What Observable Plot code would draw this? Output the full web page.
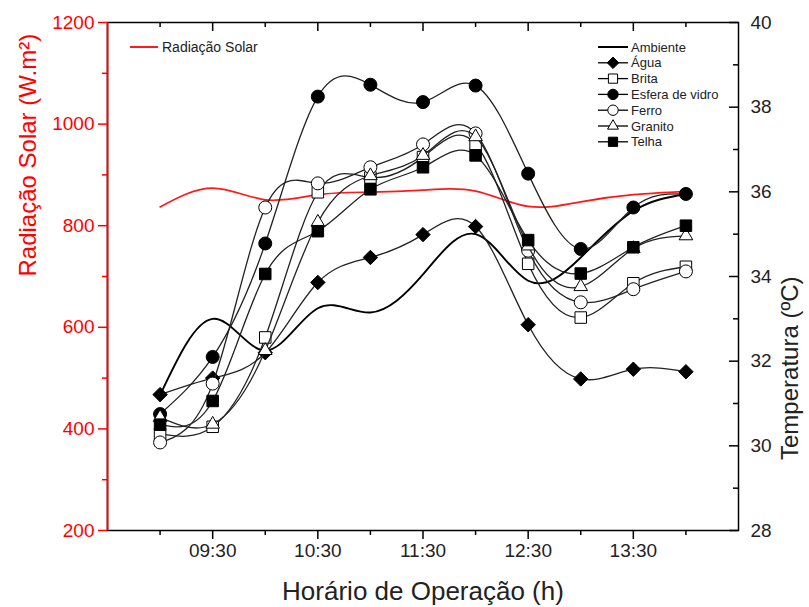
<!DOCTYPE html>
<html>
<head>
<meta charset="utf-8">
<script src="https://cdn.jsdelivr.net/npm/d3@7"></script>
<script src="https://cdn.jsdelivr.net/npm/@observablehq/plot@0.6"></script>
<style>
  html, body { margin: 0; padding: 0; background: white; }
  svg { font-family: "Liberation Sans", Arial, sans-serif; }
</style>
</head>
<body>
<div id="chart"></div>
<script>
// ---- data ----
const times = [9, 9.5, 10, 10.5, 11, 11.5, 12, 12.5, 13, 13.5, 14];
const radiacao = [837, 874, 851, 861, 866, 870, 868, 838, 847, 861, 867];
const ambiente = [31.2, 33.0, 32.25, 33.25, 33.15, 34.05, 35.0, 33.9, 34.45, 35.55, 35.95];
const agua     = [31.21, 31.6, 32.2, 33.86, 34.45, 34.99, 35.18, 32.86, 31.58, 31.81, 31.75];
const brita    = [30.28, 30.45, 32.56, 35.99, 36.34, 36.82, 37.13, 34.30, 33.03, 33.84, 34.23];
const esfera   = [30.75, 32.10, 34.78, 38.25, 38.53, 38.12, 38.51, 36.43, 34.65, 35.63, 35.95];
const ferro    = [30.08, 31.47, 35.63, 36.20, 36.58, 37.12, 37.38, 34.61, 33.39, 33.70, 34.12];
const granito  = [30.67, 30.51, 32.25, 35.28, 36.38, 36.86, 37.30, 34.72, 33.76, 34.66, 34.96];
const telha    = [30.50, 31.06, 34.06, 35.07, 36.06, 36.58, 36.86, 34.86, 34.07, 34.69, 35.20];

const xMajorTicks = [9.5, 10.5, 11.5, 12.5, 13.5];
const xMinorTicks = [9, 10, 11, 12, 13, 14];
const radMajorTicks = [200, 400, 600, 800, 1000, 1200];
const radMinorTicks = [300, 500, 700, 900, 1100];
const tempMajorTicks = [28, 30, 32, 34, 36, 38, 40];
const tempMinorTicks = [29, 31, 33, 35, 37, 39];

const series = [
  {name: "Água", values: agua, symbol: "diamond2", fill: "black"},
  {name: "Brita", values: brita, symbol: "square", fill: "white"},
  {name: "Esfera de vidro", values: esfera, symbol: "circle", fill: "black"},
  {name: "Ferro", values: ferro, symbol: "circle", fill: "white"},
  {name: "Granito", values: granito, symbol: "triangle2", fill: "white"},
  {name: "Telha", values: telha, symbol: "square", fill: "black"}
];

// ---- helpers ----
const radMin = 200, radMax = 1200, tMin = 28, tMax = 40;
const toT = r => tMin + (r - radMin) * (tMax - tMin) / (radMax - radMin);
const toR = t => radMin + (t - tMin) * (radMax - radMin) / (tMax - tMin);
const fmtTime = t => {
  const h = Math.floor(t), m = Math.round((t - h) * 60);
  return String(h).padStart(2, "0") + ":" + String(m).padStart(2, "0");
};

const W = 809, H = 607;
const mL = 107, mR = 71, mT = 22, mB = 77;
const frameW = W - mL - mR, frameH = H - mT - mB;
const xDomain = [8.5, 14.5];

const rows = vals => times.map((t, i) => ({t, v: vals[i]}));
const radRows = times.map((t, i) => ({t, v: toT(radiacao[i])}));

const marks = [
  Plot.line(radRows, {x: "t", y: "v", curve: "natural", stroke: "#ff1a1a", strokeWidth: 1.7}),
  Plot.line(rows(ambiente), {x: "t", y: "v", curve: "natural", stroke: "black", strokeWidth: 1.9})
];
for (const s of series) {
  marks.push(Plot.line(rows(s.values), {x: "t", y: "v", curve: "natural", stroke: "#222", strokeWidth: 1.3}));
  marks.push(Plot.dot(rows(s.values), {x: "t", y: "v", symbol: s.symbol, r: 6.5, fill: s.fill, stroke: "black", strokeWidth: 1}));
}

marks.push(
  Plot.frame({stroke: "black", strokeWidth: 1.5}),
  Plot.ruleX([xDomain[0]], {stroke: "red", strokeWidth: 1.8}),
  // bottom axis
  Plot.axisX(xMajorTicks, {anchor: "bottom", tickSize: 9, tickPadding: 4, tickFormat: fmtTime, fontSize: 19, fill: "#222", strokeWidth: 1.5, label: null}),
  Plot.axisX(xMinorTicks, {anchor: "bottom", tickSize: 5, tickFormat: () => "", strokeWidth: 1.5, label: null}),
  // top inward ticks
  Plot.tickX(xMajorTicks, {x: d => d, insetBottom: frameH - 9, strokeWidth: 1.5}),
  Plot.tickX(xMinorTicks, {x: d => d, insetBottom: frameH - 5, strokeWidth: 1.5}),
  // left axis (radiation)
  Plot.axisY(radMajorTicks.map(toT), {anchor: "left", tickSize: 9, tickPadding: 4, tickFormat: t => String(Math.round(toR(t))), stroke: "red", fill: "red", fontSize: 19, strokeWidth: 1.5, label: null}),
  Plot.axisY(radMinorTicks.map(toT), {anchor: "left", tickSize: 5, tickFormat: () => "", stroke: "red", strokeWidth: 1.5, label: null}),
  // right axis (temperature)
  Plot.axisY(tempMajorTicks, {anchor: "right", tickSize: 0, tickPadding: 12, fontSize: 19, fill: "#222", label: null}),
  Plot.tickY(tempMajorTicks, {y: d => d, insetLeft: frameW - 9, strokeWidth: 1.5}),
  Plot.tickY(tempMinorTicks, {y: d => d, insetLeft: frameW - 5, strokeWidth: 1.5}),
  // axis titles
  Plot.text(["Radiação Solar (W.m²)"], {frameAnchor: "left", dx: -79, rotate: -90, fill: "red", fontSize: 24}),
  Plot.text(["Temperatura (ºC)"], {frameAnchor: "right", dx: 52, rotate: -90, fill: "#222", fontSize: 24}),
  Plot.text(["Horário de Operação (h)"], {frameAnchor: "bottom", dy: 69, fill: "#222", fontSize: 26})
);

const chart = Plot.plot({
  width: W, height: H,
  marginLeft: mL, marginRight: mR, marginTop: mT, marginBottom: mB,
  x: {domain: xDomain},
  y: {domain: [tMin, tMax]},
  style: {fontFamily: "Liberation Sans, Arial, sans-serif", background: "white", overflow: "visible"},
  marks
});
document.getElementById("chart").appendChild(chart);

// ---- legends ----
const svg = d3.select(chart);
const lg1 = svg.append("g");
lg1.append("line").attr("x1", 130).attr("x2", 158).attr("y1", 47).attr("y2", 47).attr("stroke", "#ff1a1a").attr("stroke-width", 2);
lg1.append("text").attr("x", 162).attr("y", 47).attr("dy", "0.35em")
  .attr("text-anchor", "start").style("font-size", "14px").style("font-family", "Liberation Sans, Arial, sans-serif")
  .attr("fill", "#222").text("Radiação Solar");

const lg2 = svg.append("g");
const symMap = {diamond2: d3.symbolDiamond2, square: d3.symbolSquare, circle: d3.symbolCircle, triangle2: d3.symbolTriangle2};
const entries = [{name: "Ambiente", symbol: null}].concat(series);
entries.forEach((e, i) => {
  const y = 47 + i * 15.8;
  lg2.append("line").attr("x1", 598).attr("x2", 628).attr("y1", y).attr("y2", y)
    .attr("stroke", "black").attr("stroke-width", e.symbol ? 1.3 : 2);
  if (e.symbol) {
    lg2.append("path").attr("d", d3.symbol(symMap[e.symbol], Math.PI * 5.2 * 5.2)())
      .attr("transform", `translate(613,${y})`).attr("fill", e.fill).attr("stroke", "black").attr("stroke-width", 1);
  }
  lg2.append("text").attr("x", 631).attr("y", y).attr("dy", "0.35em")
    .attr("text-anchor", "start").style("font-size", "13px").style("font-family", "Liberation Sans, Arial, sans-serif")
    .attr("fill", "#222").text(e.name);
});
</script>
</body>
</html>
